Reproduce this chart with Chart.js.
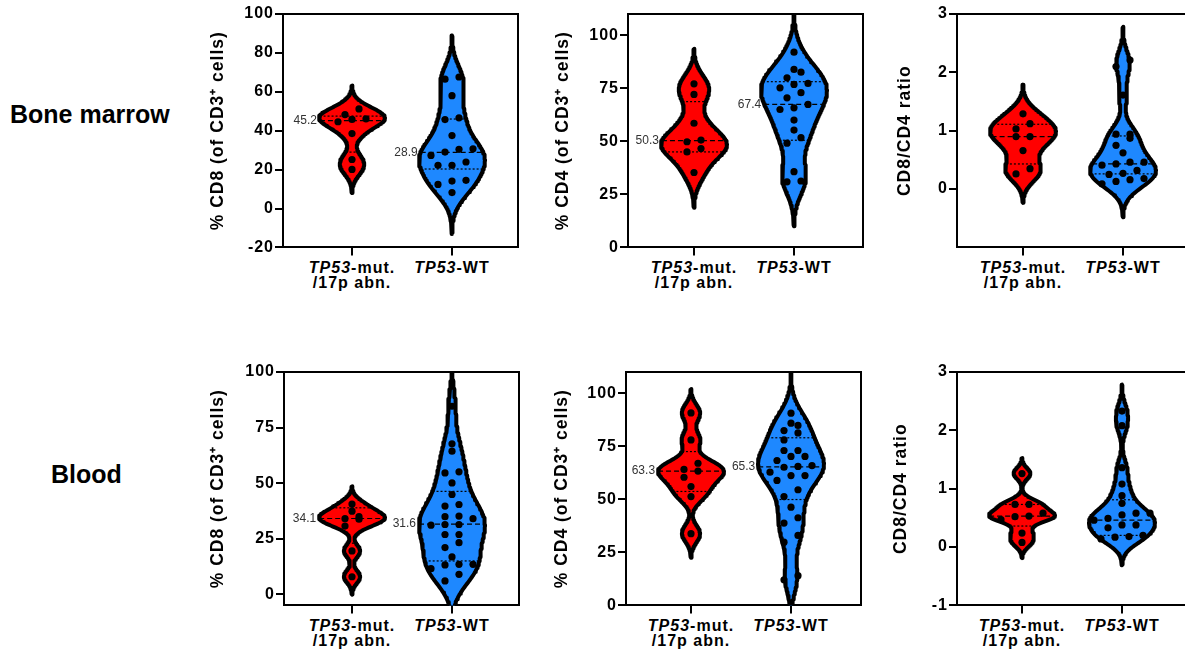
<!DOCTYPE html>
<html>
<head>
<meta charset="utf-8">
<script src="https://cdn.jsdelivr.net/npm/chart.js@4.4.1/dist/chart.umd.min.js"></script>
<style>
html, body { margin:0; padding:0; background:#fff; width:1185px; height:659px; overflow:hidden; position:relative;
  font-family:"Liberation Sans", Arial, Helvetica, sans-serif; }
.row-label { position:absolute; font-weight:bold; font-size:25px; line-height:25px; color:#000; white-space:nowrap; }
.panel { position:absolute; }
.xlab { position:absolute; font-weight:bold; font-size:16px; letter-spacing:1px; line-height:15px; text-align:center;
  white-space:nowrap; transform:translateX(-50%); color:#000; }
</style>
</head>
<body>
<div class="row-label" style="left:10px;top:102px;">Bone marrow</div>
<div class="row-label" style="left:51px;top:462px;">Blood</div>
<script>
// ---------------- DATA ----------------
const categories = [['TP53', '-mut.', '/17p abn.'], ['TP53', '-WT', '']];
const yTitles = ['% CD8 (of CD3\u207A cells)', '% CD4 (of CD3\u207A cells)', 'CD8/CD4 ratio'];

// Bone marrow – % CD8
const bmCD8Mut = [51.2, 48.3, 46.1, 45.8, 44.6, 38.5, 25.2, 20.1];
const bmCD8WT  = [67.6, 66.5, 58.0, 46.6, 45.7, 37.5, 30.7, 30.4, 29.0, 27.3, 23.9, 22.2, 22.2, 14.5, 14.1, 12.4, 8.2];
const bmCD8MutStats = [29.0, 45.2, 47.5];   // Q1, median, Q3
const bmCD8WTStats  = [20.3, 28.9, 46.0];
const bmCD8Range = [-20, 100];
const bmCD8Ticks = [-20, 0, 20, 40, 60, 80, 100];

// Bone marrow – % CD4
const bmCD4Mut = [77.1, 72.1, 58.5, 50.6, 49.8, 46.6, 45.0, 35.3];
const bmCD4WT  = [92.0, 83.9, 82.6, 79.9, 77.3, 76.8, 75.2, 72.9, 70.5, 67.4, 65.8, 65.0, 60.0, 55.3, 51.7, 49.1, 35.7, 31.3, 30.9];
const bmCD4MutStats = [45.0, 50.3, 68.7];
const bmCD4WTStats  = [50.5, 67.4, 78.1];
const bmCD4Range = [0, 110];
const bmCD4Ticks = [0, 25, 50, 75, 100];

// Bone marrow – CD8/CD4 ratio
const bmRatioMut = [1.29, 1.12, 1.03, 0.90, 0.90, 0.66, 0.35, 0.26];
const bmRatioWT  = [2.21, 2.10, 1.61, 0.94, 0.94, 0.87, 0.75, 0.62, 0.46, 0.46, 0.43, 0.41, 0.32, 0.27, 0.25, 0.18, 0.16, 0.13, 0.09];
const bmRatioMutStats = [0.43, 0.90, 1.11];
const bmRatioWTStats  = [0.26, 0.43, 0.91];
const bmRatioRange = [-1, 3];
const bmRatioTicks = [0, 1, 2, 3];

// Blood – % CD8
const blCD8Mut = [40.6, 37.4, 34.9, 34.0, 33.8, 30.7, 19.5, 7.9];
const blCD8WT  = [84.6, 67.7, 64.4, 55.1, 54.6, 50.1, 44.9, 40.4, 39.7, 35.2, 34.9, 34.0, 31.4, 31.4, 31.1, 26.9, 26.9, 23.2, 21.0, 16.8, 13.5, 13.5, 13.2, 11.5, 9.0, 6.0];
const blCD8MutStats = [23.0, 34.1, 38.9];
const blCD8WTStats  = [15.0, 31.6, 46.3];
const blCD8Range = [-5, 100];
const blCD8Ticks = [0, 25, 50, 75, 100];

// Blood – % CD4
const blCD4Mut = [90.7, 78.0, 67.0, 64.1, 63.3, 60.4, 56.0, 51.3, 33.8];
const blCD4WT  = [90.6, 85.9, 84.8, 82.4, 81.3, 78.0, 73.0, 73.0, 70.2, 70.2, 68.3, 65.9, 65.5, 65.1, 62.8, 61.2, 61.2, 58.9, 54.5, 51.3, 46.3, 41.3, 38.8, 33.0, 29.8, 14.0, 12.1];
const blCD4MutStats = [53.7, 63.3, 72.5];
const blCD4WTStats  = [49.9, 65.3, 79.0];
const blCD4Range = [0, 110];
const blCD4Ticks = [0, 25, 50, 75, 100];

// Blood – CD8/CD4 ratio
const blRatioMut = [1.26, 0.73, 0.73, 0.58, 0.53, 0.52, 0.47, 0.24, 0.08];
const blRatioWT  = [2.33, 2.08, 1.36, 1.08, 0.88, 0.75, 0.58, 0.58, 0.55, 0.49, 0.46, 0.38, 0.38, 0.33, 0.20, 0.18, 0.17, 0.14];
const blRatioMutStats = [0.36, 0.53, 0.73];
const blRatioWTStats  = [0.20, 0.46, 0.81];
const blRatioRange = [-1, 3];
const blRatioTicks = [-1, 0, 1, 2, 3];

// ---------------- STYLE ----------------
const FONT = '"Liberation Sans", Arial, Helvetica, sans-serif';
const violinColors = ['#ff0000', '#1e88ff'];
const BW_FACTOR = 0.85, CUT = 2.8, HALF_MAX = 0.33, SWARM_STEP = 0.14, ROW_FRAC = 0.03;
const AXIS_W = 80, PAD_TOP = 12, PAD_RIGHT = 6, XAXIS_H = 10, AREA_W = 235, AREA_H = 234, X_SPAN = 2.35;

const panelDefs = [
  {area:[283, 14],  xMin:-0.69, range:bmCD8Range,  ticks:bmCD8Ticks,  title:yTitles[0], titlePad:5,  series:[bmCD8Mut, bmCD8WT],   stats:[bmCD8MutStats, bmCD8WTStats],   medLabel:true},
  {area:[628, 14],  xMin:-0.66, range:bmCD4Range,  ticks:bmCD4Ticks,  title:yTitles[1], titlePad:5,  series:[bmCD4Mut, bmCD4WT],   stats:[bmCD4MutStats, bmCD4WTStats],   medLabel:true},
  {area:[957, 14],  xMin:-0.66, range:bmRatioRange,ticks:bmRatioTicks,title:yTitles[2], titlePad:18, series:[bmRatioMut, bmRatioWT], stats:[bmRatioMutStats, bmRatioWTStats], medLabel:false},
  {area:[284, 372], xMin:-0.68, range:blCD8Range,  ticks:blCD8Ticks,  title:yTitles[0], titlePad:4,  series:[blCD8Mut, blCD8WT],   stats:[blCD8MutStats, blCD8WTStats],   medLabel:true},
  {area:[626, 372], xMin:-0.65, range:blCD4Range,  ticks:blCD4Ticks,  title:yTitles[1], titlePad:6,  series:[blCD4Mut, blCD4WT],   stats:[blCD4MutStats, blCD4WTStats],   medLabel:true},
  {area:[957, 372], xMin:-0.65, range:blRatioRange,ticks:blRatioTicks,title:yTitles[2], titlePad:14, series:[blRatioMut, blRatioWT], stats:[blRatioMutStats, blRatioWTStats], medLabel:false},
];

// ---------------- HELPERS ----------------
function quantile(sorted, p) {
  const pos = (sorted.length - 1) * p, lo = Math.floor(pos);
  const hi = Math.min(lo + 1, sorted.length - 1);
  return sorted[lo] + (sorted[hi] - sorted[lo]) * (pos - lo);
}
function bandwidth(vals) {
  const n = vals.length;
  const mean = vals.reduce((a, v) => a + v, 0) / n;
  const sd = Math.sqrt(vals.reduce((a, v) => a + (v - mean) * (v - mean), 0) / (n - 1));
  const s = vals.slice().sort((a, b) => a - b);
  const iqr = quantile(s, 0.75) - quantile(s, 0.25);
  const spread = iqr > 0 ? Math.min(sd, iqr / 1.34) : sd;
  return BW_FACTOR * 0.9 * spread * Math.pow(n, -0.2);
}
function makeKde(vals) {
  const h = bandwidth(vals);
  const dens = y => vals.reduce((a, v) => a + Math.exp(-0.5 * ((y - v) / h) ** 2), 0);
  const lo = Math.min(...vals) - CUT * h, hi = Math.max(...vals) + CUT * h;
  const N = 200, ys = [];
  for (let i = 0; i <= N; i++) ys.push(lo + (hi - lo) * i / N);
  const dmax = Math.max(...ys.map(dens));
  const hw = y => (y <= lo || y >= hi) ? 0 : HALF_MAX * dens(y) / dmax;
  return {ys, hw};
}
function swarmOffsets(vals, range) {
  const thr = ROW_FRAC * (range[1] - range[0]);
  const idx = vals.map((v, i) => i).sort((a, b) => vals[a] - vals[b]);
  const rows = [];
  let cur = null;
  idx.forEach(i => {
    if (!cur || vals[i] - vals[cur[0]] > thr) { cur = [i]; rows.push(cur); }
    else cur.push(i);
  });
  const off = new Array(vals.length).fill(0);
  rows.forEach(r => r.forEach((i, j) => { off[i] = (j - (r.length - 1) / 2) * SWARM_STEP; }));
  return off;
}

const boxPlugin = {
  id: 'box',
  beforeDraw(chart) { chart.ctx.letterSpacing = '1px'; },
  afterDraw(chart) {
    const {ctx, chartArea: a} = chart;
    ctx.save();
    ctx.strokeStyle = '#000'; ctx.lineWidth = 2;
    ctx.beginPath();
    ctx.moveTo(Math.round(a.left), Math.round(a.top));
    ctx.lineTo(Math.round(a.right), Math.round(a.top));
    ctx.lineTo(Math.round(a.right), Math.round(a.bottom));
    ctx.stroke();
    ctx.restore();
  }
};
const medianLabelPlugin = {
  id: 'medLabels',
  afterDatasetsDraw(chart, args, opts) {
    if (!opts.items) return;
    const {ctx} = chart, xs = chart.scales.x, ys = chart.scales.y;
    ctx.save();
    ctx.letterSpacing = '0px';
    ctx.font = '12px ' + FONT;
    ctx.fillStyle = '#333';
    ctx.textAlign = 'right';
    ctx.textBaseline = 'middle';
    opts.items.forEach(it => {
      ctx.fillText(it.value.toFixed(1), xs.getPixelForValue(it.xLeft) - 3, ys.getPixelForValue(it.value));
    });
    ctx.restore();
  }
};

// ---------------- BUILD ----------------
panelDefs.forEach((p, pi) => {
  const cw = AXIS_W + AREA_W + PAD_RIGHT, ch = PAD_TOP + AREA_H + XAXIS_H;
  const left = p.area[0] - AXIS_W, top = p.area[1] - PAD_TOP;
  const canvas = document.createElement('canvas');
  canvas.className = 'panel';
  canvas.width = cw; canvas.height = ch;
  canvas.style.left = left + 'px'; canvas.style.top = top + 'px';
  canvas.style.width = cw + 'px'; canvas.style.height = ch + 'px';
  document.body.appendChild(canvas);

  const dotData = [], violinSets = [], lineSets = [], medItems = [];
  p.series.forEach((vals, si) => {
    const kde = makeKde(vals);
    const off = swarmOffsets(vals, p.range);
    vals.forEach((v, i) => dotData.push({x: si + off[i], y: v}));
    const poly = kde.ys.map(y => ({x: si + kde.hw(y), y}))
      .concat(kde.ys.slice().reverse().map(y => ({x: si - kde.hw(y), y})));
    poly.push(poly[0]);
    violinSets.push({
      type: 'line', data: poly, order: 3, fill: 'shape',
      backgroundColor: violinColors[si], borderColor: '#000', borderWidth: 4,
      borderJoinStyle: 'round', borderCapStyle: 'round', pointRadius: 0, pointHitRadius: 0, tension: 0
    });
    p.stats[si].forEach((s, k) => {
      const w = kde.hw(s);
      lineSets.push({
        type: 'line', data: [{x: si - w, y: s}, {x: si + w, y: s}], order: 2, fill: false,
        borderColor: '#000', borderWidth: 1.2, borderDash: k === 1 ? [5, 3] : [2, 2],
        pointRadius: 0, pointHitRadius: 0
      });
      if (k === 1 && p.medLabel) medItems.push({value: s, xLeft: si - w});
    });
  });
  const dots = {
    type: 'scatter', data: dotData, order: 1,
    pointRadius: 3.6, pointBackgroundColor: '#000', pointBorderWidth: 0, pointStyle: 'circle'
  };

  const chart = new Chart(canvas.getContext('2d'), {
    type: 'scatter',
    data: {datasets: [dots].concat(lineSets, violinSets)},
    options: {
      responsive: false, animation: false, devicePixelRatio: 1, events: [],
      layout: {padding: {top: PAD_TOP, right: PAD_RIGHT, left: 0, bottom: 0}},
      plugins: {legend: {display: false}, tooltip: {enabled: false}, medLabels: {items: medItems}},
      scales: {
        x: {
          type: 'linear', min: p.xMin, max: p.xMin + X_SPAN,
          afterBuildTicks: s => { s.ticks = categories.map((c, i) => ({value: i})); },
          ticks: {display: false},
          grid: {drawOnChartArea: false, drawTicks: true, tickLength: 8, color: '#000', tickColor: '#000', lineWidth: 2, tickWidth: 2},
          border: {color: '#000', width: 2},
          afterFit: s => { s.height = XAXIS_H; }
        },
        y: {
          type: 'linear', min: p.range[0], max: p.range[1],
          afterBuildTicks: s => { s.ticks = p.ticks.map(v => ({value: v})); },
          ticks: {color: '#000', padding: 1, font: {family: FONT, size: 16, weight: 'bold'}, callback: v => String(v)},
          grid: {drawOnChartArea: false, drawTicks: true, tickLength: 8, color: '#000', tickColor: '#000', lineWidth: 2, tickWidth: 2},
          border: {color: '#000', width: 2},
          title: {display: true, text: p.title, color: '#000', font: {family: FONT, size: 17.5, weight: 'bold'}, padding: {top: p.titlePad, bottom: 0}},
          afterFit: s => { s.width = AXIS_W; }
        }
      }
    },
    plugins: [boxPlugin, medianLabelPlugin]
  });

  const xs = chart.scales.x;
  categories.forEach((c, i) => {
    const div = document.createElement('div');
    div.className = 'xlab';
    const gene = document.createElement('i'); gene.textContent = c[0];
    div.appendChild(gene);
    div.appendChild(document.createTextNode(c[1]));
    if (c[2]) { div.appendChild(document.createElement('br')); div.appendChild(document.createTextNode(c[2])); }
    div.style.left = (left + xs.getPixelForValue(i)) + 'px';
    div.style.top = (top + chart.chartArea.bottom + 13) + 'px';
    document.body.appendChild(div);
  });
});
</script>
</body>
</html>
